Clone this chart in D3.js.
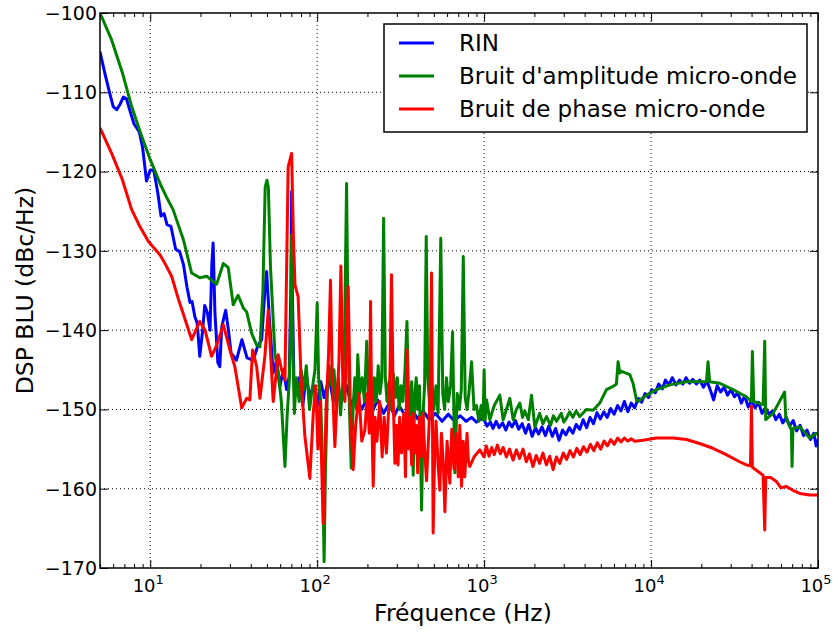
<!DOCTYPE html>
<html>
<head>
<meta charset="utf-8">
<script src="https://cdn.jsdelivr.net/npm/d3@7"></script>
<style>
  body { margin: 0; background: #fff; }
  svg text { font-family: "DejaVu Sans", sans-serif; fill: #000; }
</style>
</head>
<body>
<svg id="chart" width="833" height="633"></svg>
<script>
// DSP BLU : RIN, bruit d'amplitude et bruit de phase micro-onde

const SERIES_NAMES = ['RIN', "Bruit d'amplitude micro-onde", 'Bruit de phase micro-onde'];
const SERIES_COLORS = ['#0000ff', '#008000', '#ff0000'];
const X_MAJOR = [10, 100, 1000, 10000, 100000];
const X_EXP = [1, 2, 3, 4, 5];
const Y_TICKS = [-170, -160, -150, -140, -130, -120, -110, -100];

// [fréquence Hz, dBc/Hz]
const rin = [
  [5,-104.9],[5.4,-108],[5.7,-110],[6.0,-111.8],[6.3,-112.2],[6.6,-111.5],[6.9,-110.6],[7.2,-110.8],
  [7.6,-112.5],[8.0,-114],[8.6,-115],[9.0,-117],[9.5,-121.2],[10.0,-119.8],[10.5,-119.8],[11.1,-122.7],
  [11.6,-125.6],[12.1,-125.3],[12.6,-126.7],[13.3,-126.9],[14.2,-129.8],[15.0,-130.1],[15.8,-131.7],
  [16.6,-134.6],[17.3,-136.5],[17.8,-136.4],[18.5,-138.3],[19.1,-139.1],[19.8,-143.3],[20.6,-140],
  [21.2,-136.9],[22.0,-137.8],[22.8,-140],[23.4,-131.6],[23.8,-129],[24.4,-137.8],[25.4,-144.1],
  [26.1,-144.6],[26.8,-139.6],[27.7,-138.3],[28.3,-137.5],[29.4,-140],[30.5,-142.9],[31.6,-143.3],
  [32.8,-143.8],[35.4,-141.2],[38,-143.5],[41.4,-143.8],[44,-142],[46.5,-141.2],[48.6,-135],
  [49.8,-132.6],[51.6,-138.3],[54.5,-145.4],[57.1,-143.8],[59.8,-147.1],[62.6,-145],[65.6,-147.5],
  [68,-145.9],[69.5,-135],[70.3,-122.5],[71,-135],[72.5,-146],[75,-148],[78,-146],[82,-149.5],
  [86,-145.5],[90,-148.5],[95,-147],[100,-149.6],[105,-146.5],[110,-148.5],[118,-146],[125,-149],
  [132,-147.5],[140,-149],[150,-147],[160,-149.5],[170,-148],[185,-150],[200,-148.5],[215,-150.2],
  [230,-148.8],[250,-150.5],[270,-149.2],[290,-150.8],[310,-149.5],[340,-151],[370,-150],[400,-151.2],
  [430,-150.2],[470,-151.3],[510,-150.5],[560,-151.5],[610,-150.6],[660,-151.4],[720,-150.8],
  [780,-151.5],[840,-151],[900,-151.6],[950,-151.2],
  [1000,-151.3],[1040,-152.1],[1090,-151.6],[1130,-152.4],[1180,-151.5],[1230,-152.3],[1290,-151.7],
  [1350,-152.6],[1410,-151.6],[1470,-152.2],[1540,-151.4],[1610,-152.5],[1690,-151.8],[1770,-153],
  [1850,-151.9],[1940,-153.4],[2030,-152.3],[2120,-153.1],[2220,-152.2],[2330,-153.3],[2440,-152.1],
  [2560,-153.4],[2680,-152.4],[2810,-153.9],[2950,-152.6],[3090,-153.2],[3240,-152.3],[3400,-153],
  [3560,-151.9],[3740,-152.5],[3920,-151.3],[4110,-152.3],[4310,-151],[4520,-151.8],[4740,-150.4],
  [4970,-151.2],[5210,-150.3],[5460,-151],[5730,-149.9],[6010,-150.6],[6300,-149.5],[6600,-150.2],
  [6920,-149],[7260,-150.3],[7610,-149.2],[7980,-149.8],[8370,-148.6],[8780,-149.1],[9200,-148],
  [9650,-148.5],[10100,-147.5],[10600,-147.9],[11100,-146.8],[11700,-147.4],[12200,-146.3],
  [12800,-146.9],[13400,-146],[14100,-146.9],[14800,-146.3],[15500,-146.8],[16200,-146],
  [17000,-146.7],[17800,-146.2],[18700,-146.8],[19600,-146.3],[20600,-147.2],[21600,-146.4],
  [22600,-147.5],[23700,-148.8],[24900,-147],[26100,-147.8],[27400,-147.2],[28700,-148.2],
  [30100,-147.5],[31600,-148.4],[33100,-147.9],[34700,-149.2],[36400,-148.3],[38200,-149.7],
  [40000,-148.9],[42000,-149.8],[44000,-149.1],[46200,-150.5],[48400,-149.8],[50800,-150.6],
  [53300,-150.2],[55900,-151.3],[58600,-150.6],[61500,-151.7],[64500,-151],[67700,-152.1],
  [71000,-151.4],[74400,-152.7],[78100,-152],[81900,-153.3],[85900,-152.6],[90100,-153.8],
  [94500,-153],[97500,-154.6],[100000,-153.8]
];

const amplitude = [
  [5,-100],[5.87,-103.4],[6.8,-107.5],[7.74,-111.8],[8.8,-115.3],[10,-118.5],[11.5,-121.6],
  [12.5,-123.2],[13.7,-124.8],[15.8,-128.6],[17.7,-132.8],[19.8,-133.4],[21.8,-133.2],[23.5,-133.8],
  [25,-134.2],[27.4,-131.6],[29.3,-132.1],[31.4,-136.8],[33.6,-135.6],[36.1,-137.2],[37.8,-137.7],
  [40.5,-140.4],[43.4,-141.9],[45.4,-142.1],[47.3,-135],[48.8,-122],[50,-121.1],[51,-122],
  [52.5,-132],[55.8,-142.9],[58.5,-145.5],[61,-149],[64.1,-157.2],[66,-151],[68,-146.5],
  [69.8,-137],[70.3,-128],[71,-140],[73,-150.5],[75,-146],[78,-149],[80,-145],[83,-147.5],
  [86,-144.5],[90,-150],[94,-147],[97,-145],[100,-136.6],[102,-146],[105,-149],[108,-158],
  [110,-169.2],[112,-158],[115,-148],[118,-144.5],[122,-147],[126,-145],[130,-149.5],[134,-146],
  [138,-150.7],[142,-147],[146,-140],[150,-121.5],[153,-140],[156,-150],[160,-157.4],[164,-150],
  [168,-146],[172,-150],[175,-143.1],[180,-148],[186,-146],[192,-149],[198,-141.4],[203,-148],
  [208,-145],[214,-151],[220,-146],[226,-149],[232,-144.5],[238,-148],[244,-146],[250,-125.9],
  [256,-146],[262,-149],[270,-146.5],[278,-150],[286,-145.5],[294,-148.5],[302,-146],[310,-150],
  [318,-147],[326,-149],[335,-145.5],[345,-138.9],[352,-148],[360,-151],[368,-146.5],[376,-158.3],
  [384,-148],[392,-146],[400,-150],[410,-147],[422,-162.7],[432,-150],[440,-147],[450,-128.2],
  [460,-146],[472,-149.5],[485,-146.5],[500,-150],[515,-147],[530,-150.5],[550,-128.4],[565,-148],
  [580,-150],[595,-146],[610,-149],[630,-147],[647,-140.2],[668,-158],[690,-148],[710,-150],
  [730,-147.5],[750,-130.7],[770,-148.5],[790,-150],[810,-148],[841,-144],[870,-150],[900,-149.5],
  [930,-151.5],[960,-149.5],[985,-151.3],[1000,-145],[1015,-151.3],[1034,-148.8],[1082,-151.3],
  [1150,-149.5],[1242,-148.2],[1300,-151.3],[1360,-150],[1425,-148.6],[1493,-151.3],[1560,-150],
  [1636,-149.2],[1700,-151],[1753,-150.2],[1840,-151.3],[1922,-148.2],[2012,-152.2],[2150,-150.5],
  [2250,-151.8],[2365,-150.9],[2500,-152],[2600,-150.8],[2715,-151.5],[2900,-150.5],[3000,-151.6],
  [3114,-151.1],[3250,-150.3],[3400,-151],[3560,-150.2],[3740,-150.9],[4100,-150],[4497,-150.1],
  [4930,-149.2],[5407,-147.5],[5921,-147.1],[6200,-146.8],[6345,-144],[6500,-145.4],[6650,-145.2],
  [7460,-145.6],[7800,-146.7],[8180,-148.8],[8360,-149],[9380,-148.2],[10770,-147.5],[12940,-146.9],
  [16290,-146.5],[21470,-146.5],[21940,-144],[22450,-146.5],[25770,-146.7],[30980,-147.5],
  [37240,-148.4],[39930,-149],[40460,-142.7],[41200,-149],[46880,-149.4],[47960,-141.4],
  [48630,-151.3],[53800,-150.5],[63100,-147.8],[64100,-151],[69300,-152.6],[69900,-157.2],
  [70800,-152.4],[77800,-152.2],[89100,-153.6],[97800,-153],[100000,-153.2]
];

const phase = [
  [5,-114.5],[5.87,-117.7],[6.8,-121],[7.74,-124.8],[8.7,-127],[9.73,-128.8],[10.5,-129.6],
  [11.43,-130.5],[12.4,-131.8],[13.43,-133.2],[14.7,-136],[15.8,-138],[17.7,-141.2],[19.8,-138.9],
  [21.3,-140],[23.3,-143.3],[25,-141.9],[27.4,-139.3],[30,-142.5],[32.1,-144.6],[35.3,-149.8],
  [37.8,-148.6],[39.5,-148.8],[41,-142.5],[43.4,-144.6],[45.4,-148.6],[48.6,-143.3],[50.9,-137.5],
  [54.5,-149],[58.4,-143.1],[61.2,-145],[64.1,-146.3],[67,-119.4],[70.3,-117.7],[72,-128],
  [73.6,-134.3],[76.9,-135.8],[80,-146],[84.4,-153.4],[90.4,-158.7],[94.7,-150.5],[98,-147],
  [101,-155],[104,-149],[108.6,-164.4],[113,-150],[117,-143],[120.2,-133.7],[123,-146],
  [127.6,-154.7],[132,-148],[135,-144],[138.7,-131.9],[142,-145],[146.5,-149],[150,-141],
  [153.4,-134.5],[158,-150],[164.3,-157.6],[170,-152],[178,-148],[185,-154],[193,-152.6],
  [200,-148],[205,-153],[208.8,-136.4],[212,-150],[216.5,-159.7],[222,-151],[228,-154],[237,-149],
  [245,-156],[252,-151],[260,-155.5],[268,-150],[273,-145],[278.8,-133],[285,-148],[292,-156.8],
  [298.8,-152],[305,-157],[312,-151],[320,-155.5],[330,-150.5],[338,-158.5],[345.6,-142.5],
  [352,-155],[360,-151],[368,-157],[375.7,-150.5],[384,-155.5],[392,-152],[400,-158],[410,-151],
  [420,-156],[430,-150.5],[440,-155],[452,-159],[468,-152],[476,-146],[484,-132.8],[490,-150],
  [495,-165.6],[505,-156],[515,-151.5],[530,-157],[543,-160.2],[555,-153],[570,-157],[582,-162.9],
  [600,-154],[623,-159.3],[640,-152.5],[660,-157.5],[680,-153],[700,-158.5],[715,-152],[732,-159.7],
  [750,-154],[766,-158.5],[790,-153],[805,-156.5],[821,-157.2],[870,-156],[942,-155.1],
  [1000,-156],[1030,-154.6],[1070,-155.9],[1110,-154.8],[1150,-155.7],[1200,-154.5],[1250,-155.6],
  [1300,-154.8],[1360,-156],[1420,-155],[1490,-156.4],[1560,-155.1],[1630,-156.2],[1710,-155],
  [1790,-156.6],[1870,-155.6],[1960,-157.2],[2050,-155.8],[2150,-156.8],[2250,-155.5],[2360,-157],
  [2470,-155.9],[2590,-157.6],[2710,-156],[2840,-156.8],[2980,-155.5],[3120,-156.3],[3270,-155.2],
  [3430,-156],[3590,-154.9],[3760,-155.7],[3940,-154.7],[4130,-155.4],[4330,-154.4],[4540,-155.2],
  [4760,-154.2],[4990,-155],[5230,-154],[5480,-154.6],[5740,-153.8],[6020,-154.4],[6310,-153.6],
  [6610,-154.1],[6930,-153.6],[7260,-154],[7610,-153.7],[7980,-154],[8950,-153.9],
  [10770,-153.6],[13550,-153.6],[16290,-153.8],[19500,-154.3],[23500,-154.9],[28200,-155.7],
  [33900,-156.6],[37240,-157],[39400,-157.1],[39930,-149.6],[40460,-157.3],[46880,-158.3],
  [47960,-165.2],[48630,-158.6],[52000,-158.6],[56400,-159.1],[60000,-159.9],[64300,-159.7],
  [70800,-160.2],[77800,-160.6],[89100,-160.8],[100000,-160.8]
];

const SERIES = [rin, amplitude, phase];

function draw() {
  const svg = d3.select('#chart');
  const margin = { left: 100, right: 15, top: 13, bottom: 65 };
  const W = 833, H = 633;
  const x = d3.scaleLog().domain([5, 100000]).range([margin.left, W - margin.right]);
  const y = d3.scaleLinear().domain([-170, -100]).range([H - margin.bottom, margin.top]);
  const x0 = margin.left, x1 = W - margin.right, y0 = margin.top, y1 = H - margin.bottom;

  // graduations secondaires (2..9 par décade)
  const xMinor = [];
  for (let d = 1; d <= 10000; d *= 10) {
    for (let k = 2; k <= 9; k++) {
      const v = k * d;
      if (v >= 5 && v <= 100000) xMinor.push(v);
    }
  }

  // grille pointillée
  const grid = svg.append('g');
  grid.selectAll('.gx').data(X_MAJOR.filter(v => v < 100000)).enter().append('line')
    .attr('x1', d => x(d)).attr('x2', d => x(d)).attr('y1', y0).attr('y2', y1)
    .attr('stroke', '#000').attr('stroke-width', 1).attr('stroke-dasharray', '1,3');
  grid.selectAll('.gy').data(Y_TICKS.filter(v => v > -170 && v < -100)).enter().append('line')
    .attr('x1', x0).attr('x2', x1).attr('y1', d => y(d)).attr('y2', d => y(d))
    .attr('stroke', '#000').attr('stroke-width', 1).attr('stroke-dasharray', '1,3');

  // courbes
  svg.append('clipPath').attr('id', 'clip').append('rect')
    .attr('x', x0).attr('y', y0 - 2).attr('width', x1 - x0).attr('height', y1 - y0 + 4);
  const line = d3.line().x(d => x(d[0])).y(d => y(d[1]));
  svg.append('g').attr('clip-path', 'url(#clip)')
    .selectAll('path').data(SERIES).enter().append('path')
    .attr('d', line)
    .attr('fill', 'none')
    .attr('stroke', (d, i) => SERIES_COLORS[i])
    .attr('stroke-width', 3)
    .attr('stroke-linejoin', 'round');

  // axes avec graduations intérieures
  const tickStyle = g => { g.select('.domain').remove(); g.selectAll('text').remove();
    g.selectAll('line').attr('stroke', '#000').attr('stroke-width', 1); };
  svg.append('g').attr('transform', `translate(0,${y1})`)
    .call(d3.axisBottom(x).tickValues(X_MAJOR).tickSize(-8)).call(tickStyle);
  svg.append('g').attr('transform', `translate(0,${y1})`)
    .call(d3.axisBottom(x).tickValues(xMinor).tickSize(-4)).call(tickStyle);
  svg.append('g').attr('transform', `translate(0,${y0})`)
    .call(d3.axisTop(x).tickValues(X_MAJOR).tickSize(-8)).call(tickStyle);
  svg.append('g').attr('transform', `translate(0,${y0})`)
    .call(d3.axisTop(x).tickValues(xMinor).tickSize(-4)).call(tickStyle);
  svg.append('g').attr('transform', `translate(${x0},0)`)
    .call(d3.axisLeft(y).tickValues(Y_TICKS).tickSize(-8)).call(tickStyle);
  svg.append('g').attr('transform', `translate(${x1},0)`)
    .call(d3.axisRight(y).tickValues(Y_TICKS).tickSize(-8)).call(tickStyle);

  svg.append('rect').attr('x', x0).attr('y', y0).attr('width', x1 - x0).attr('height', y1 - y0)
    .attr('fill', 'none').attr('stroke', '#000').attr('stroke-width', 1.5);

  // étiquettes
  svg.append('g').selectAll('text').data(Y_TICKS).enter().append('text')
    .attr('x', x0 - 3).attr('y', d => y(d)).attr('dy', '0.36em')
    .attr('text-anchor', 'end').style('font-size', '19px')
    .text(d => '\u2212' + Math.abs(d));

  const xl = svg.append('g').selectAll('text').data(X_MAJOR).enter().append('text')
    .attr('x', d => x(d) - 2).attr('y', y1 + 24)
    .attr('text-anchor', 'middle').style('font-size', '18px');
  xl.append('tspan').text('10');
  xl.append('tspan').attr('dy', '-8').style('font-size', '13px').text((d, i) => X_EXP[i]);

  svg.append('text').attr('x', (x0 + x1) / 2 + 4).attr('y', H - 12)
    .attr('text-anchor', 'middle').style('font-size', '23.5px').text('Fréquence (Hz)');
  svg.append('text').attr('transform', `translate(33,${(y0 + y1) / 2}) rotate(-90)`)
    .attr('text-anchor', 'middle').style('font-size', '23.5px').text('DSP BLU (dBc/Hz)');

  // légende
  const lg = svg.append('g');
  lg.append('rect').attr('x', 384).attr('y', 24).attr('width', 423).attr('height', 108)
    .attr('fill', '#fff').attr('stroke', '#000').attr('stroke-width', 1.5);
  SERIES_NAMES.forEach((name, i) => {
    const cy = 43 + i * 33;
    lg.append('line').attr('x1', 399).attr('x2', 434).attr('y1', cy).attr('y2', cy)
      .attr('stroke', SERIES_COLORS[i]).attr('stroke-width', 3);
    lg.append('text').attr('x', 459).attr('y', cy).attr('dy', '0.36em')
      .style('font-size', '23px').text(name);
  });
}

draw();
</script>
</body>
</html>
